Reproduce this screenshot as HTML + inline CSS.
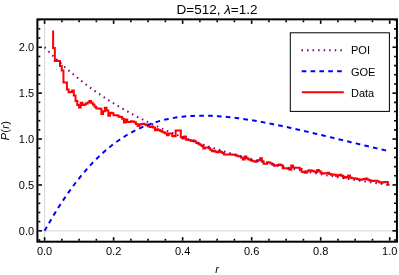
<!DOCTYPE html>
<html><head><meta charset="utf-8"><style>
html,body{margin:0;padding:0;background:#fff;}
svg{display:block;will-change:transform;font-family:"Liberation Sans",sans-serif;}
</style></head><body>
<svg width="399" height="275" viewBox="0 0 399 275">
<rect width="399" height="275" fill="#fff"/>
<g stroke="#d4d4d4" stroke-width="1">
<line x1="44.60" y1="19.35" x2="44.60" y2="241.7"/>
<line x1="37.4" y1="230.85" x2="396.95" y2="230.85"/>
</g>
<clipPath id="c"><rect x="37.4" y="19.35" width="359.55" height="222.35"/></clipPath>
<g clip-path="url(#c)" fill="none" stroke-width="2">
<path d="M53.10,30.4V47.90H54.83V61.00H56.55V61.00H58.28V61.00H60.00V65.90H61.73V70.60H63.45V82.50H65.18V82.50H66.90V89.60H68.63V92.20H70.36V91.90H72.08V90.50H73.81V95.40H75.53V101.10H77.26V105.00H78.98V107.60H80.71V102.80H82.43V105.00H84.16V104.40H85.88V103.50H87.61V102.40H89.34V101.10H91.06V102.80H92.79V104.60H94.51V106.80H96.24V108.60H97.96V108.40H99.69V108.85H101.41V114.00H103.14V111.30H104.87V107.84H106.59V110.48H108.32V115.80H110.04V112.80H111.77V113.22H113.49V115.31H115.22V115.31H116.94V115.50H118.67V116.79H120.39V117.09H122.12V118.81H123.85V122.62H125.57V119.50H127.30V122.00H129.02V121.92H130.75V121.22H132.47V121.44H134.20V122.31H135.92V123.90H137.65V126.12H139.38V124.61H141.10V123.88H142.83V123.72H144.55V124.46H146.28V125.37H148.00V126.37H149.73V127.12H151.45V126.61H153.18V127.62H154.90V130.21H156.63V129.31H158.36V129.88H160.08V130.91H161.81V131.68H163.53V132.42H165.26V133.50H166.98V135.16H168.71V133.46H170.43V133.57H172.16V136.07H173.89V136.21H175.61V130.60H177.34V130.60H179.06V130.60H180.79V137.31H182.51V138.40H184.24V136.60H185.96V139.70H187.69V139.70H189.41V140.36H191.14V140.88H192.87V140.49H194.59V141.59H196.32V142.89H198.04V143.75H199.77V144.81H201.49V146.07H203.22V148.38H204.94V147.58H206.67V147.56H208.40V148.17H210.12V149.63H211.85V151.14H213.57V150.68H215.30V151.66H217.02V152.35H218.75V151.35H220.47V152.09H222.20V153.11H223.92V154.49H225.65V154.50H227.38V154.50H229.10V154.50H230.83V154.60H232.55V154.69H234.28V154.79H236.00V155.62H237.73V156.21H239.45V156.59H241.18V157.77H242.91V159.51H244.63V156.53H246.36V158.18H248.08V159.17H249.81V160.07H251.53V160.73H253.26V161.31H254.98V161.70H256.71V161.01H258.43V159.90H260.16V158.34H261.89V161.19H263.61V163.74H265.34V163.78H267.06V162.17H268.79V162.55H270.51V163.53H272.24V164.62H273.96V165.70H275.69V165.60H277.42V165.03H279.14V164.57H280.87V165.20H282.59V168.21H284.32V168.30H286.04V168.30H287.77V168.71H289.49V169.63H291.22V165.59H292.94V167.40H294.67V167.68H296.40V167.76H298.12V167.85H299.85V169.10H301.57V171.84H303.30V172.30H305.02V172.77H306.75V171.50H308.47V170.33H310.20V170.56H311.93V170.79H313.65V171.50H315.38V172.00H317.10V169.96H318.83V171.18H320.55V172.63H322.28V173.54H324.00V173.36H325.73V173.16H327.45V172.80H329.18V173.89H330.91V174.74H332.63V174.60H334.36V174.80H336.08V176.06H337.81V175.21H339.53V174.71H341.26V175.63H342.98V176.76H344.71V177.77H346.44V176.94H348.16V175.38H349.89V177.55H351.61V178.30H353.34V178.30H355.06V178.54H356.79V179.04H358.51V179.53H360.24V179.72H361.96V179.55H363.69V179.11H365.42V178.57H367.14V179.43H368.87V180.35H370.59V180.63H372.32V180.90H374.04V180.80H375.77V180.71H377.49V181.38H379.22V182.19H380.95V182.70H382.67V182.29H384.40V181.91H386.12V182.10H387.85V184.65H389.57" stroke="#ff0000" stroke-linejoin="miter"/>
<polyline points="44.60,47.25 46.33,49.07 48.05,50.87 49.78,52.64 51.50,54.38 53.23,56.10 54.95,57.79 56.68,59.46 58.40,61.10 60.13,62.72 61.86,64.32 63.58,65.89 65.31,67.45 67.03,68.98 68.76,70.49 70.48,71.97 72.21,73.44 73.93,74.89 75.66,76.32 77.38,77.73 79.11,79.11 80.84,80.48 82.56,81.84 84.29,83.17 86.01,84.49 87.74,85.78 89.46,87.06 91.19,88.33 92.91,89.58 94.64,90.81 96.37,92.02 98.09,93.22 99.82,94.41 101.54,95.57 103.27,96.73 104.99,97.87 106.72,98.99 108.44,100.10 110.17,101.20 111.89,102.28 113.62,103.35 115.35,104.41 117.07,105.45 118.80,106.48 120.52,107.50 122.25,108.50 123.97,109.49 125.70,110.47 127.42,111.44 129.15,112.40 130.88,113.35 132.60,114.28 134.33,115.20 136.05,116.12 137.78,117.02 139.50,117.91 141.23,118.79 142.95,119.66 144.68,120.52 146.40,121.37 148.13,122.21 149.86,123.04 151.58,123.86 153.31,124.68 155.03,125.48 156.76,126.27 158.48,127.06 160.21,127.83 161.93,128.60 163.66,129.36 165.38,130.11 167.11,130.85 168.84,131.59 170.56,132.31 172.29,133.03 174.01,133.74 175.74,134.44 177.46,135.14 179.19,135.82 180.91,136.50 182.64,137.18 184.37,137.84 186.09,138.50 187.82,139.15 189.54,139.80 191.27,140.43 192.99,141.07 194.72,141.69 196.44,142.31 198.17,142.92 199.90,143.53 201.62,144.12 203.35,144.72 205.07,145.30 206.80,145.89 208.52,146.46 210.25,147.03 211.97,147.59 213.70,148.15 215.42,148.70 217.15,149.25 218.88,149.79 220.60,150.33 222.33,150.86 224.05,151.38 225.78,151.90 227.50,152.42 229.23,152.93 230.95,153.43 232.68,153.93 234.41,154.43 236.13,154.92 237.86,155.41 239.58,155.89 241.31,156.36 243.03,156.84 244.76,157.30 246.48,157.77 248.21,158.23 249.93,158.68 251.66,159.13 253.39,159.58 255.11,160.02 256.84,160.46 258.56,160.89 260.29,161.32 262.01,161.75 263.74,162.17 265.46,162.59 267.19,163.00 268.92,163.41 270.64,163.82 272.37,164.22 274.09,164.62 275.82,165.02 277.54,165.41 279.27,165.80 280.99,166.18 282.72,166.57 284.44,166.95 286.17,167.32 287.90,167.69 289.62,168.06 291.35,168.43 293.07,168.79 294.80,169.15 296.52,169.50 298.25,169.86 299.97,170.21 301.70,170.55 303.43,170.90 305.15,171.24 306.88,171.58 308.60,171.91 310.33,172.25 312.05,172.58 313.78,172.90 315.50,173.23 317.23,173.55 318.95,173.87 320.68,174.18 322.41,174.50 324.13,174.81 325.86,175.12 327.58,175.42 329.31,175.73 331.03,176.03 332.76,176.32 334.48,176.62 336.21,176.91 337.94,177.21 339.66,177.49 341.39,177.78 343.11,178.06 344.84,178.35 346.56,178.63 348.29,178.90 350.01,179.18 351.74,179.45 353.46,179.72 355.19,179.99 356.92,180.26 358.64,180.52 360.37,180.78 362.09,181.05 363.82,181.30 365.54,181.56 367.27,181.81 368.99,182.07 370.72,182.32 372.45,182.57 374.17,182.81 375.90,183.06 377.62,183.30 379.35,183.54 381.07,183.78 382.80,184.02 384.52,184.25 386.25,184.49 387.97,184.72 389.70,184.95" stroke="#800080" stroke-dasharray="1.5 4.025"/>
<polyline points="44.60,230.85 46.33,227.78 48.05,224.75 49.78,221.77 51.50,218.83 53.23,215.94 54.95,213.11 56.68,210.31 58.40,207.57 60.13,204.87 61.86,202.22 63.58,199.62 65.31,197.07 67.03,194.56 68.76,192.11 70.48,189.69 72.21,187.33 73.93,185.01 75.66,182.74 77.38,180.52 79.11,178.34 80.84,176.21 82.56,174.12 84.29,172.08 86.01,170.09 87.74,168.14 89.46,166.23 91.19,164.37 92.91,162.55 94.64,160.78 96.37,159.05 98.09,157.36 99.82,155.71 101.54,154.10 103.27,152.54 104.99,151.02 106.72,149.53 108.44,148.09 110.17,146.68 111.89,145.32 113.62,143.99 115.35,142.70 117.07,141.45 118.80,140.24 120.52,139.06 122.25,137.92 123.97,136.81 125.70,135.74 127.42,134.70 129.15,133.70 130.88,132.73 132.60,131.80 134.33,130.89 136.05,130.02 137.78,129.18 139.50,128.37 141.23,127.59 142.95,126.84 144.68,126.12 146.40,125.42 148.13,124.76 149.86,124.12 151.58,123.52 153.31,122.93 155.03,122.38 156.76,121.85 158.48,121.34 160.21,120.87 161.93,120.41 163.66,119.98 165.38,119.57 167.11,119.19 168.84,118.83 170.56,118.49 172.29,118.17 174.01,117.87 175.74,117.59 177.46,117.34 179.19,117.10 180.91,116.89 182.64,116.69 184.37,116.51 186.09,116.35 187.82,116.21 189.54,116.08 191.27,115.97 192.99,115.88 194.72,115.80 196.44,115.74 198.17,115.70 199.90,115.67 201.62,115.66 203.35,115.66 205.07,115.67 206.80,115.70 208.52,115.74 210.25,115.80 211.97,115.86 213.70,115.94 215.42,116.03 217.15,116.14 218.88,116.25 220.60,116.38 222.33,116.52 224.05,116.66 225.78,116.82 227.50,116.99 229.23,117.17 230.95,117.35 232.68,117.55 234.41,117.75 236.13,117.97 237.86,118.19 239.58,118.42 241.31,118.66 243.03,118.91 244.76,119.16 246.48,119.42 248.21,119.69 249.93,119.96 251.66,120.24 253.39,120.53 255.11,120.83 256.84,121.13 258.56,121.43 260.29,121.74 262.01,122.06 263.74,122.38 265.46,122.71 267.19,123.04 268.92,123.38 270.64,123.72 272.37,124.06 274.09,124.41 275.82,124.76 277.54,125.12 279.27,125.48 280.99,125.85 282.72,126.21 284.44,126.58 286.17,126.96 287.90,127.33 289.62,127.71 291.35,128.10 293.07,128.48 294.80,128.87 296.52,129.26 298.25,129.65 299.97,130.05 301.70,130.44 303.43,130.84 305.15,131.24 306.88,131.64 308.60,132.04 310.33,132.45 312.05,132.86 313.78,133.26 315.50,133.67 317.23,134.08 318.95,134.49 320.68,134.90 322.41,135.31 324.13,135.73 325.86,136.14 327.58,136.56 329.31,136.97 331.03,137.39 332.76,137.80 334.48,138.22 336.21,138.63 337.94,139.05 339.66,139.47 341.39,139.88 343.11,140.30 344.84,140.71 346.56,141.13 348.29,141.55 350.01,141.96 351.74,142.38 353.46,142.79 355.19,143.21 356.92,143.62 358.64,144.03 360.37,144.45 362.09,144.86 363.82,145.27 365.54,145.68 367.27,146.09 368.99,146.50 370.72,146.91 372.45,147.32 374.17,147.73 375.90,148.13 377.62,148.54 379.35,148.94 381.07,149.35 382.80,149.75 384.52,150.15 386.25,150.55 387.97,150.95 389.70,151.35" stroke="#0000ff" stroke-dasharray="4.65 4.2"/>
</g>
<g stroke="#000" stroke-width="1.6">
<line x1="44.60" y1="240.70" x2="44.60" y2="237.20"/>
<line x1="44.60" y1="20.35" x2="44.60" y2="23.85"/>
<line x1="61.86" y1="240.70" x2="61.86" y2="238.80"/>
<line x1="61.86" y1="20.35" x2="61.86" y2="22.25"/>
<line x1="79.11" y1="240.70" x2="79.11" y2="238.80"/>
<line x1="79.11" y1="20.35" x2="79.11" y2="22.25"/>
<line x1="96.37" y1="240.70" x2="96.37" y2="238.80"/>
<line x1="96.37" y1="20.35" x2="96.37" y2="22.25"/>
<line x1="113.62" y1="240.70" x2="113.62" y2="237.20"/>
<line x1="113.62" y1="20.35" x2="113.62" y2="23.85"/>
<line x1="130.88" y1="240.70" x2="130.88" y2="238.80"/>
<line x1="130.88" y1="20.35" x2="130.88" y2="22.25"/>
<line x1="148.13" y1="240.70" x2="148.13" y2="238.80"/>
<line x1="148.13" y1="20.35" x2="148.13" y2="22.25"/>
<line x1="165.39" y1="240.70" x2="165.39" y2="238.80"/>
<line x1="165.39" y1="20.35" x2="165.39" y2="22.25"/>
<line x1="182.64" y1="240.70" x2="182.64" y2="237.20"/>
<line x1="182.64" y1="20.35" x2="182.64" y2="23.85"/>
<line x1="199.90" y1="240.70" x2="199.90" y2="238.80"/>
<line x1="199.90" y1="20.35" x2="199.90" y2="22.25"/>
<line x1="217.15" y1="240.70" x2="217.15" y2="238.80"/>
<line x1="217.15" y1="20.35" x2="217.15" y2="22.25"/>
<line x1="234.41" y1="240.70" x2="234.41" y2="238.80"/>
<line x1="234.41" y1="20.35" x2="234.41" y2="22.25"/>
<line x1="251.66" y1="240.70" x2="251.66" y2="237.20"/>
<line x1="251.66" y1="20.35" x2="251.66" y2="23.85"/>
<line x1="268.92" y1="240.70" x2="268.92" y2="238.80"/>
<line x1="268.92" y1="20.35" x2="268.92" y2="22.25"/>
<line x1="286.17" y1="240.70" x2="286.17" y2="238.80"/>
<line x1="286.17" y1="20.35" x2="286.17" y2="22.25"/>
<line x1="303.43" y1="240.70" x2="303.43" y2="238.80"/>
<line x1="303.43" y1="20.35" x2="303.43" y2="22.25"/>
<line x1="320.68" y1="240.70" x2="320.68" y2="237.20"/>
<line x1="320.68" y1="20.35" x2="320.68" y2="23.85"/>
<line x1="337.94" y1="240.70" x2="337.94" y2="238.80"/>
<line x1="337.94" y1="20.35" x2="337.94" y2="22.25"/>
<line x1="355.19" y1="240.70" x2="355.19" y2="238.80"/>
<line x1="355.19" y1="20.35" x2="355.19" y2="22.25"/>
<line x1="372.45" y1="240.70" x2="372.45" y2="238.80"/>
<line x1="372.45" y1="20.35" x2="372.45" y2="22.25"/>
<line x1="389.70" y1="240.70" x2="389.70" y2="237.20"/>
<line x1="389.70" y1="20.35" x2="389.70" y2="23.85"/>
<line x1="38.40" y1="240.03" x2="40.30" y2="240.03"/>
<line x1="395.95" y1="240.03" x2="394.05" y2="240.03"/>
<line x1="38.40" y1="230.85" x2="41.90" y2="230.85"/>
<line x1="395.95" y1="230.85" x2="392.45" y2="230.85"/>
<line x1="38.40" y1="221.67" x2="40.30" y2="221.67"/>
<line x1="395.95" y1="221.67" x2="394.05" y2="221.67"/>
<line x1="38.40" y1="212.49" x2="40.30" y2="212.49"/>
<line x1="395.95" y1="212.49" x2="394.05" y2="212.49"/>
<line x1="38.40" y1="203.31" x2="40.30" y2="203.31"/>
<line x1="395.95" y1="203.31" x2="394.05" y2="203.31"/>
<line x1="38.40" y1="194.13" x2="40.30" y2="194.13"/>
<line x1="395.95" y1="194.13" x2="394.05" y2="194.13"/>
<line x1="38.40" y1="184.95" x2="41.90" y2="184.95"/>
<line x1="395.95" y1="184.95" x2="392.45" y2="184.95"/>
<line x1="38.40" y1="175.77" x2="40.30" y2="175.77"/>
<line x1="395.95" y1="175.77" x2="394.05" y2="175.77"/>
<line x1="38.40" y1="166.59" x2="40.30" y2="166.59"/>
<line x1="395.95" y1="166.59" x2="394.05" y2="166.59"/>
<line x1="38.40" y1="157.41" x2="40.30" y2="157.41"/>
<line x1="395.95" y1="157.41" x2="394.05" y2="157.41"/>
<line x1="38.40" y1="148.23" x2="40.30" y2="148.23"/>
<line x1="395.95" y1="148.23" x2="394.05" y2="148.23"/>
<line x1="38.40" y1="139.05" x2="41.90" y2="139.05"/>
<line x1="395.95" y1="139.05" x2="392.45" y2="139.05"/>
<line x1="38.40" y1="129.87" x2="40.30" y2="129.87"/>
<line x1="395.95" y1="129.87" x2="394.05" y2="129.87"/>
<line x1="38.40" y1="120.69" x2="40.30" y2="120.69"/>
<line x1="395.95" y1="120.69" x2="394.05" y2="120.69"/>
<line x1="38.40" y1="111.51" x2="40.30" y2="111.51"/>
<line x1="395.95" y1="111.51" x2="394.05" y2="111.51"/>
<line x1="38.40" y1="102.33" x2="40.30" y2="102.33"/>
<line x1="395.95" y1="102.33" x2="394.05" y2="102.33"/>
<line x1="38.40" y1="93.15" x2="41.90" y2="93.15"/>
<line x1="395.95" y1="93.15" x2="392.45" y2="93.15"/>
<line x1="38.40" y1="83.97" x2="40.30" y2="83.97"/>
<line x1="395.95" y1="83.97" x2="394.05" y2="83.97"/>
<line x1="38.40" y1="74.79" x2="40.30" y2="74.79"/>
<line x1="395.95" y1="74.79" x2="394.05" y2="74.79"/>
<line x1="38.40" y1="65.61" x2="40.30" y2="65.61"/>
<line x1="395.95" y1="65.61" x2="394.05" y2="65.61"/>
<line x1="38.40" y1="56.43" x2="40.30" y2="56.43"/>
<line x1="395.95" y1="56.43" x2="394.05" y2="56.43"/>
<line x1="38.40" y1="47.25" x2="41.90" y2="47.25"/>
<line x1="395.95" y1="47.25" x2="392.45" y2="47.25"/>
<line x1="38.40" y1="38.07" x2="40.30" y2="38.07"/>
<line x1="395.95" y1="38.07" x2="394.05" y2="38.07"/>
<line x1="38.40" y1="28.89" x2="40.30" y2="28.89"/>
<line x1="395.95" y1="28.89" x2="394.05" y2="28.89"/>
<line x1="38.40" y1="19.71" x2="40.30" y2="19.71"/>
<line x1="395.95" y1="19.71" x2="394.05" y2="19.71"/>
</g>
<rect x="37.4" y="19.35" width="359.55" height="222.35" fill="none" stroke="#000" stroke-width="2"/>
<g font-size="11" fill="#000">
<text x="44.60" y="254.8" text-anchor="middle">0.0</text><text x="113.62" y="254.8" text-anchor="middle">0.2</text><text x="182.64" y="254.8" text-anchor="middle">0.4</text><text x="251.66" y="254.8" text-anchor="middle">0.6</text><text x="320.68" y="254.8" text-anchor="middle">0.8</text><text x="389.70" y="254.8" text-anchor="middle">1.0</text>
<text x="34.1" y="234.95" text-anchor="end">0.0</text><text x="34.1" y="189.05" text-anchor="end">0.5</text><text x="34.1" y="143.15" text-anchor="end">1.0</text><text x="34.1" y="97.25" text-anchor="end">1.5</text><text x="34.1" y="51.35" text-anchor="end">2.0</text>
<text x="217.1" y="272.7" text-anchor="middle" font-style="italic">r</text>
<text transform="translate(9.05,130.5) rotate(-90)" text-anchor="middle" letter-spacing="0.3"><tspan font-style="italic">P</tspan>(<tspan font-style="italic">r</tspan>)</text>
</g>
<text x="217" y="13.8" text-anchor="middle" font-size="13.5" fill="#000">D=512, <tspan font-style="italic">λ</tspan>=1.2</text>
<rect x="290.3" y="32.8" width="99.1" height="78.6" fill="#fff" stroke="#000" stroke-width="1"/>
<g fill="none" stroke-width="2">
<line x1="301.5" y1="50.2" x2="343.6" y2="50.2" stroke="#800080" stroke-dasharray="1.5 4.04"/>
<line x1="301.7" y1="71.3" x2="343.6" y2="71.3" stroke="#0000ff" stroke-dasharray="4.65 4.2"/>
<line x1="301.8" y1="92.3" x2="343.8" y2="92.3" stroke="#ff0000"/>
</g>
<g font-size="11" fill="#000">
<text x="351.0" y="54.15">POI</text>
<text x="351.0" y="75.65">GOE</text>
<text x="351.0" y="96.65">Data</text>
</g>
</svg>
</body></html>
